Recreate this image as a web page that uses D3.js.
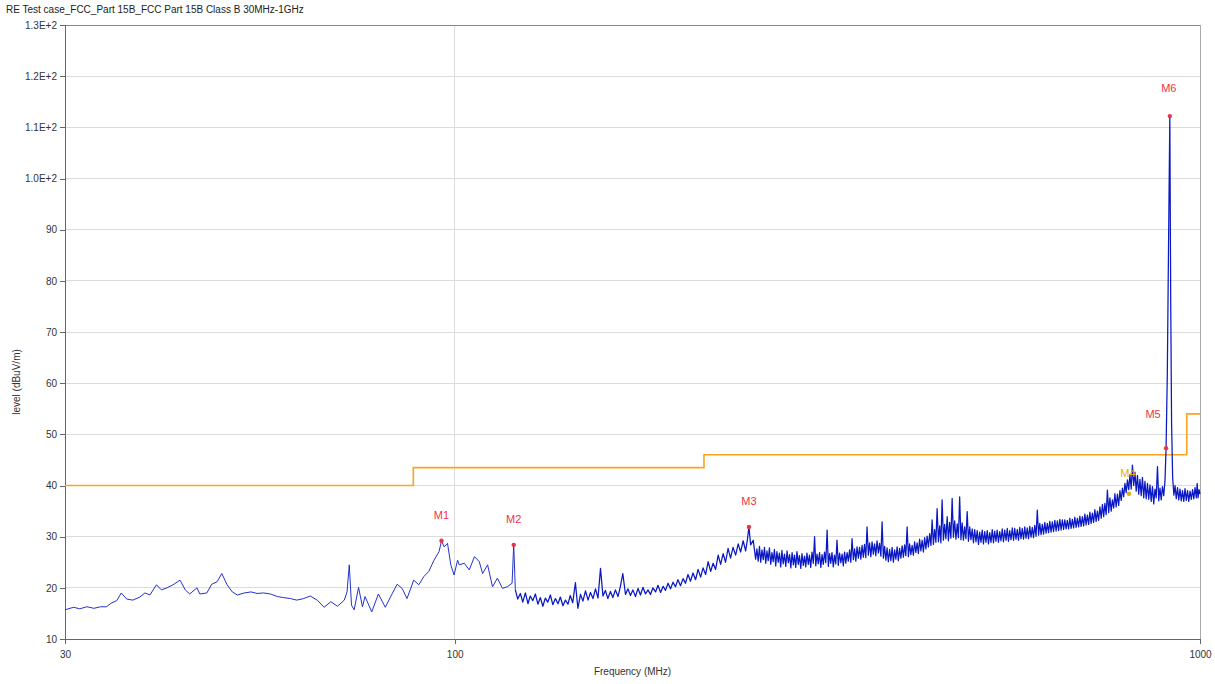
<!DOCTYPE html>
<meta charset="utf-8">
<script src="https://cdn.jsdelivr.net/npm/d3@7"></script>
<style>
    body { margin: 0; background: #fff; }
    .axis path, .axis line { stroke: #666; shape-rendering: crispEdges; }
    .axis text { font-family: "Liberation Sans", Arial, sans-serif; font-size: 10px; fill: #333; }
    .grid line { stroke: #dcdcdc; shape-rendering: crispEdges; }
</style>
<body>
<div id="chart"></div>
<script>

    var title = "RE Test case_FCC_Part 15B_FCC Part 15B  Class B 30MHz-1GHz"

    // limit line (FCC Part 15B class B, 3m)
    var limitFreqs = [30, 88, 88, 216, 216, 960, 960, 1000]
    var limitLevels = [40, 40, 43.5, 43.5, 46, 46, 54, 54]

    var yTicks = [10, 20, 30, 40, 50, 60, 70, 80, 90, 100, 110, 120, 130]
    var yTickLabels = ["10", "20", "30", "40", "50", "60", "70", "80", "90", "1.0E+2", "1.1E+2", "1.2E+2", "1.3E+2"]
    var xTicks = [30, 100, 1000]

    var markerNames = ["M1", "M2", "M3", "M4", "M5", "M6"]
    var markerFreqs = [96.0, 120.0, 248.2, 803, 900.5, 911]
    var markerLevels = [29.2, 28.4, 31.9, 38.4, 47.3, 112.2]

    var trace = [
        [30.0,15.7],[30.8,16.2],[31.4,15.9],[32.1,16.3],[32.8,16.0],[33.5,16.3],[34.1,16.3],[34.6,17.0],[35.2,17.5],[35.7,19.0],
        [36.3,17.8],[37.0,17.6],[37.8,18.2],[38.4,19.0],[39.0,18.6],[39.8,20.6],[40.4,19.6],[41.1,20.0],[41.9,20.6],[42.8,21.5],
        [43.5,19.6],[44.1,18.8],[45.1,20.0],[45.5,18.8],[46.5,19.0],[47.2,20.7],[48.0,21.2],[48.7,22.8],[49.5,20.6],[50.3,19.2],
        [51.1,18.6],[52.2,19.0],[53.3,19.2],[54.3,18.9],[55.4,19.0],[56.6,18.8],[57.8,18.3],[58.9,18.1],[60.2,17.9],[61.4,17.6],
        [62.7,17.9],[64.0,18.4],[65.4,17.6],[66.8,16.2],[68.2,17.3],[69.6,16.4],[71.1,17.6],[71.7,19.2],[72.2,24.5],[72.7,16.6],
        [73.3,15.7],[74.3,20.1],[75.2,16.3],[75.8,18.3],[77.4,15.3],[79.0,18.8],[80.7,16.2],[82.4,18.8],[83.7,20.7],[85.0,19.9],
        [86.3,17.9],[88.1,21.5],[89.5,20.6],[90.9,22.2],[92.3,23.2],[93.8,25.4],[95.3,27.1],[96.0,29.2],[96.8,28.0],[97.8,28.7],
        [98.8,24.5],[99.8,22.5],[100.9,25.4],[101.4,24.5],[103.0,24.8],[104.6,23.5],[106.3,26.1],[107.9,25.1],[109.0,22.8],[110.7,24.5],
        [112.4,20.2],[114.1,21.9],[115.9,19.9],[117.6,20.2],[119.4,20.9],[120.0,28.4],[120.6,19.6],[121.5,17.8],[122.5,18.9],[123.4,17.2],
        [124.4,19.0],[125.4,16.9],[126.3,18.4],[127.3,17.5],[128.3,18.8],[129.3,16.8],[130.3,18.1],[131.3,16.4],[132.3,18.0],[133.3,17.2],
        [134.4,18.6],[135.4,16.7],[136.5,17.9],[137.6,16.9],[138.6,18.2],[139.7,16.5],[140.8,17.6],[141.9,16.8],[142.9,18.5],[144.0,17.1],
        [145.2,21.0],[146.3,16.0],[147.5,18.7],[148.6,17.4],[149.8,19.4],[151.0,17.6],[152.1,19.1],[153.3,17.9],[154.5,19.8],[155.7,18.0],
        [156.9,23.8],[158.1,18.4],[159.3,19.5],[160.5,17.9],[161.8,19.3],[163.0,18.1],[164.3,19.6],[165.6,18.3],[166.8,20.2],[168.1,22.8],
        [169.5,18.7],[170.8,19.8],[172.1,18.5],[173.4,19.6],[174.8,18.3],[176.2,19.9],[177.5,18.6],[178.9,20.1],[180.3,18.8],[181.7,19.6],
        [183.1,18.7],[184.5,20.0],[186.0,19.2],[187.4,20.5],[188.9,19.1],[190.4,20.3],[191.8,19.5],[193.3,20.9],[194.8,19.8],[196.3,21.1],
        [197.8,20.2],[199.3,21.6],[200.9,20.4],[202.5,21.8],[204.0,20.9],[205.6,22.6],[207.2,21.3],[208.8,22.9],[210.5,21.6],[212.1,23.6],
        [213.8,22.1],[215.4,23.9],[217.1,22.6],[218.8,25.1],[220.5,23.2],[222.2,24.8],[223.9,23.6],[225.7,26.4],[227.4,24.6],[229.2,26.7],
        [230.9,25.0],[232.7,27.7],[234.5,25.8],[236.3,27.9],[238.2,26.4],[240.1,28.6],[241.9,27.0],[243.8,29.2],[245.7,27.2],[247.0,29.4],
        [248.2,31.9],[249.5,28.4],[251.5,29.3],
        [253.4,25.6],[254.4,27.6],[255.4,25.2],[256.4,28.1],[257.4,25.0],[258.4,27.4],[259.4,25.5],[260.4,27.9],[261.4,24.8],[262.4,27.2],
        [263.4,25.3],[264.4,27.8],[265.5,24.6],[266.5,26.9],[267.5,25.1],[268.5,27.5],[269.6,24.3],[270.6,27.1],[271.7,25.0],[272.7,26.8],
        [273.8,24.1],[274.8,27.3],[275.9,24.7],[277.0,26.6],[278.1,24.2],[279.2,27.2],[280.3,24.9],[281.4,26.5],[282.5,23.9],[283.6,26.9],
        [284.7,24.5],[285.7,26.4],[286.8,24.0],[287.9,27.1],[289.0,24.6],[290.1,26.3],[291.3,23.8],[292.4,26.7],[293.6,24.4],[294.7,26.2],
        [295.8,24.1],[296.9,26.8],[298.1,24.6],[299.2,26.4],[300.4,24.0],[301.6,27.0],[302.8,24.8],[304.0,30.0],[305.1,24.3],[306.3,26.6],
        [307.5,24.7],[308.7,26.9],[309.9,24.0],[311.1,26.5],[312.3,24.6],[313.5,27.0],[314.7,24.9],[316.0,31.3],[317.2,24.2],[318.4,26.7],
        [319.6,24.8],[320.8,26.9],[322.1,24.1],[323.3,26.4],[324.6,24.7],[325.8,29.3],[327.1,24.4],[328.4,26.8],[329.7,24.9],[331.0,26.6],
        [332.2,24.3],[333.5,27.0],[334.8,24.8],[336.1,26.9],[337.4,25.2],[338.7,27.4],[340.0,25.0],[341.3,29.6],[342.7,25.5],[344.0,27.6],
        [345.3,25.2],[346.6,28.0],[348.0,25.8],[349.3,27.9],[350.7,25.6],[352.0,28.3],[353.4,26.0],[354.7,28.5],[356.1,25.9],[357.5,31.9],
        [358.9,26.4],[360.3,28.8],[361.7,26.1],[363.1,29.0],[364.5,26.6],[365.9,28.6],[367.3,26.3],[368.7,29.2],[370.2,26.8],[371.6,28.7],
        [373.1,26.2],[374.5,32.9],[376.0,25.8],[377.4,28.1],[378.9,25.4],[380.3,27.8],[381.8,25.1],[383.3,27.5],[384.8,25.3],[386.3,27.9],
        [387.8,25.0],[389.3,27.4],[390.8,25.6],[392.3,28.0],[393.8,25.3],[395.3,27.7],[396.9,25.8],[398.4,28.2],[400.0,26.0],[401.5,28.4],
        [403.0,26.3],[404.6,31.9],[406.2,26.1],[407.7,28.6],[409.3,26.5],[410.9,28.3],[412.5,26.4],[414.1,29.0],[415.7,26.9],[417.3,28.8],
        [418.9,26.7],[420.5,29.5],[422.2,27.2],[423.8,29.3],[425.5,27.0],[427.1,29.8],[428.8,27.6],[430.4,30.1],[432.1,28.0],[433.8,30.6],
        [435.5,28.3],[437.1,33.3],[438.8,28.5],[440.5,31.4],[442.2,28.9],[443.9,35.5],[445.7,29.0],[447.4,32.1],[449.1,28.8],[450.8,37.2],
        [452.6,29.3],[454.3,32.4],[456.1,29.6],[457.9,33.9],[459.7,29.2],[461.4,32.8],[463.2,29.7],[465.0,37.5],[466.8,29.9],[468.6,33.1],
        [470.5,29.5],[472.3,32.5],[474.1,29.8],[475.9,37.8],[477.8,29.4],[479.6,32.7],[481.5,29.3],[483.3,31.9],[485.2,29.6],[487.1,34.9],
        [489.0,29.1],[490.9,31.9],[492.8,29.4],[494.7,31.5],[496.6,28.8],[498.5,31.4],[500.5,29.0],[502.4,31.2],[504.4,28.5],[506.3,30.9],
        [508.3,28.9],[510.2,31.3],[512.2,28.6],[514.2,31.0],[516.2,28.9],[518.2,31.2],[520.2,28.6],[522.2,30.8],[524.3,28.9],[526.3,31.4],
        [528.3,28.8],[530.3,31.1],[532.4,29.1],[534.4,31.3],[536.5,28.9],[538.6,31.0],[540.7,29.2],[542.8,31.5],[544.9,29.0],[547.0,31.3],
        [549.2,29.3],[551.3,31.6],[553.4,29.1],[555.5,31.2],[557.7,29.4],[559.9,31.7],[562.1,29.3],[564.2,31.6],[566.4,29.5],[568.6,31.4],
        [570.8,29.3],[573.0,31.8],[575.2,29.6],[577.4,31.6],[579.7,29.5],[581.9,31.9],[584.2,29.7],[586.4,31.7],[588.7,29.6],[591.0,32.0],
        [593.3,29.9],[595.6,31.8],[597.9,29.8],[600.2,32.2],[602.6,30.1],[604.9,35.2],[607.3,30.3],[609.6,32.6],[612.0,30.4],[614.3,32.4],
        [616.7,30.5],[619.1,32.8],[621.5,30.7],[623.9,32.6],[626.3,30.8],[628.7,33.0],[631.2,30.9],[633.6,32.9],[636.1,31.0],[638.6,33.2],
        [641.1,31.1],[643.6,33.1],[646.1,31.2],[648.6,33.4],[651.1,31.3],[653.6,33.3],[656.1,31.4],[658.6,33.3],[661.2,31.5],[663.7,33.2],
        [666.3,31.5],[668.9,33.6],[671.5,31.6],[674.1,33.4],[676.7,31.7],[679.3,33.8],[682.0,31.8],[684.6,33.6],[687.3,31.9],[689.9,34.0],
        [692.6,32.0],[695.3,33.9],[698.0,32.1],[700.7,34.4],[703.4,32.3],[706.1,34.2],[708.9,32.4],[711.6,34.8],[714.4,32.6],[717.1,34.6],
        [719.9,32.8],[722.7,35.3],[725.5,33.0],[728.3,35.0],[731.2,33.2],[734.0,35.8],[736.9,33.6],[739.7,36.3],[742.6,33.9],[745.4,36.5],
        [748.3,34.3],[751.2,39.1],[754.1,34.7],[757.0,37.6],[760.0,35.0],[762.9,37.2],[765.9,35.6],[768.8,38.4],[771.8,35.8],[774.8,38.3],
        [777.8,36.1],[780.8,39.0],[783.9,37.1],[786.9,39.5],[790.0,37.8],[793.0,40.4],[796.1,38.6],[799.2,41.1],[802.3,39.2],[805.4,42.1],
        [808.5,39.3],[811.6,44.0],[814.8,40.0],[817.9,42.6],[821.1,38.9],[824.3,42.0],[827.5,38.3],[830.7,41.2],[833.9,38.0],[837.1,41.6],
        [840.4,37.6],[843.6,40.8],[846.9,37.4],[850.2,40.4],[853.5,37.3],[856.8,40.1],[860.1,36.9],[863.4,39.8],[866.8,36.4],[870.1,39.3],
        [873.5,37.6],[876.9,43.7],[880.3,37.0],[883.7,39.5],[887.1,37.2],[890.5,39.8],[894.0,38.0],
        [897.5,41.0],[900.5,47.3],[904.0,62.0],[907.5,88.0],[911.0,112.2],[913.5,76.0],[916.0,52.0],[919.0,41.5],
        [922.5,38.1],[925.9,40.0],[929.3,37.4],[932.9,39.6],[936.5,37.2],[940.1,39.3],[943.8,37.0],[947.4,39.0],[951.1,36.9],[954.8,39.4],
        [958.5,37.1],[962.2,39.0],[965.9,36.9],[969.7,38.9],[973.5,37.3],[977.3,39.2],[981.1,37.4],[984.8,39.6],[988.6,37.6],[991.3,40.4],
        [994.0,37.6],[997.0,39.2],[1000.0,38.3]
    ]

    var W = 1215, H = 684
    var mLeft = 65, mRight = 1200, mTop = 25, mBottom = 639

    var svg = d3.select("#chart").append("svg").attr("width", W).attr("height", H)

    var x = d3.scaleLog().domain([30, 1000]).range([mLeft, mRight])
    var y = d3.scaleLinear().domain([10, 130]).range([mBottom, mTop])

    // grid
    svg.append("g").attr("class", "grid").selectAll("line").data(yTicks.slice(1)).enter().append("line")
        .attr("x1", mLeft).attr("x2", mRight).attr("y1", d => y(d)).attr("y2", d => y(d))
    svg.append("g").attr("class", "grid").append("line")
        .attr("x1", x(100)).attr("x2", x(100)).attr("y1", mTop).attr("y2", mBottom)

    // frame
    svg.append("line").attr("x1", mLeft).attr("x2", mRight).attr("y1", mTop).attr("y2", mTop).attr("stroke", "#888").style("shape-rendering", "crispEdges")
    svg.append("line").attr("x1", mRight).attr("x2", mRight).attr("y1", mTop).attr("y2", mBottom).attr("stroke", "#aaa").style("shape-rendering", "crispEdges")

    var yAxis = d3.axisLeft(y).tickValues(yTicks).tickSize(5).tickFormat((d, i) => yTickLabels[i])
    svg.append("g").attr("class", "axis").attr("transform", "translate(" + mLeft + ",0)").call(yAxis)

    var xAxis = d3.axisBottom(x).tickValues(xTicks).tickSize(5).tickFormat(d3.format("d"))
    svg.append("g").attr("class", "axis").attr("transform", "translate(0," + mBottom + ")").call(xAxis)
        .selectAll("text").attr("dy", "1.1em")

    // limit
    var limit = limitFreqs.map((f, i) => [f, limitLevels[i]])
    svg.append("path").datum(limit)
        .attr("d", d3.line().x(d => x(d[0])).y(d => y(d[1])))
        .attr("fill", "none").attr("stroke", "#ffa21f").attr("stroke-width", 1.6)

    // trace: sparse low band drawn thin, dense upper band a bit heavier
    var line = d3.line().x(d => x(d[0])).y(d => y(d[1]))
    svg.append("path").datum(trace.filter(d => d[0] <= 120.6))
        .attr("d", line).attr("fill", "none").attr("stroke", "#2233cc").attr("stroke-width", 1).attr("stroke-linejoin", "round")
    svg.append("path").datum(trace.filter(d => d[0] >= 120.6))
        .attr("d", line).attr("fill", "none").attr("stroke", "#0a18c4").attr("stroke-width", 1.25).attr("stroke-linejoin", "round")

    // markers
    var labelShift = { "M4": [-1, -17], "M5": [-13, -30], "M6": [-1, -24] }
    markerNames.forEach((name, i) => {
        var col = name == "M4" ? "#e0b000" : "#ee3344"
        var cx = x(markerFreqs[i]), cy = y(markerLevels[i])
        svg.append("circle").attr("cx", cx).attr("cy", cy).attr("r", 2.2).attr("fill", col)
        var s = labelShift[name] || [0, -22]
        svg.append("text").attr("x", cx + s[0]).attr("y", cy + s[1]).text(name)
            .style("text-anchor", "middle").style("font-family", "Liberation Sans, Arial, sans-serif")
            .style("font-size", "11px").style("fill", col)
    })

    // labels
    svg.append("text").attr("x", 6).attr("y", 13).text(title)
        .style("font-family", "Liberation Sans, Arial, sans-serif").style("font-size", "10px").style("fill", "#222")
    svg.append("text").attr("x", (mLeft + mRight) / 2).attr("y", 675).text("Frequency (MHz)")
        .style("text-anchor", "middle").style("font-family", "Liberation Sans, Arial, sans-serif").style("font-size", "10px").style("fill", "#333")
    svg.append("text").attr("transform", "translate(20," + 382 + ") rotate(-90)").text("level (dBuV/m)")
        .style("text-anchor", "middle").style("font-family", "Liberation Sans, Arial, sans-serif").style("font-size", "10px").style("fill", "#333")

</script>
</body>
